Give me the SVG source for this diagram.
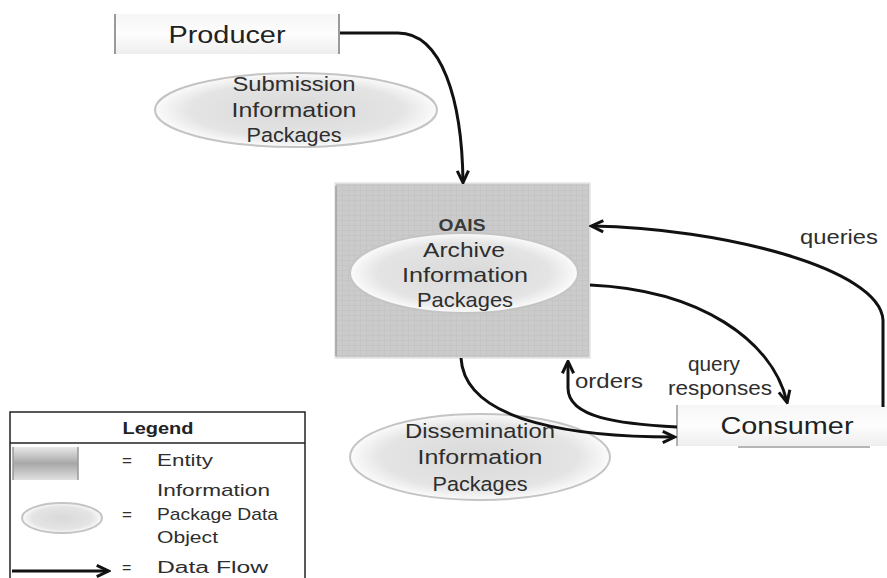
<svg xmlns="http://www.w3.org/2000/svg" width="887" height="578" viewBox="0 0 887 578">
<defs>
<style>
text{font-family:"Liberation Sans","Open Sans",Arial,sans-serif;fill:#2e2e2e;text-anchor:middle}
.lbl{font-size:20.5px}
.big{font-size:23px;fill:#222}
.leg{font-size:17px;text-anchor:start}
.flow{fill:none;stroke:#111;stroke-width:3;marker-end:url(#ah)}
.ell{fill:url(#eg);stroke:#c4c4c4;stroke-width:2}
.ebox{fill:url(#bg);stroke:none}
</style>
<marker id="ah" viewBox="0 0 12 12" refX="10" refY="6" markerWidth="15" markerHeight="15" markerUnits="userSpaceOnUse" orient="auto">
<path d="M1,1.5 L10.5,6 L1,10.5" fill="none" stroke="#111" stroke-width="2.4" stroke-linejoin="miter"/>
</marker>
<radialGradient id="eg" cx="50%" cy="50%" r="50%">
<stop offset="0" stop-color="#d9d9d9"/>
<stop offset="0.75" stop-color="#e4e4e4"/>
<stop offset="1" stop-color="#fbfbfb"/>
</radialGradient>
<linearGradient id="bg" x1="0" y1="0" x2="0" y2="1">
<stop offset="0" stop-color="#f6f6f6"/>
<stop offset="0.5" stop-color="#fdfdfd"/>
<stop offset="1" stop-color="#eeeeee"/>
</linearGradient>
<pattern id="grid" width="6" height="5" patternUnits="userSpaceOnUse">
<rect width="6" height="5" fill="#cbcbcb"/>
<path d="M0,0.5 H6 M0.5,0 V5" stroke="#c5c5c5" stroke-width="1"/>
</pattern>
<linearGradient id="lg" x1="0" y1="0" x2="0" y2="1">
<stop offset="0" stop-color="#e8e8e8"/>
<stop offset="0.5" stop-color="#a8a8a8"/>
<stop offset="1" stop-color="#e0e0e0"/>
</linearGradient>
</defs>

<g id="producer">
<rect class="ebox" x="115" y="14" width="224" height="40"/>
<line x1="115" y1="14" x2="115" y2="54" stroke="#9a9a9a" stroke-width="2"/>
<line x1="339" y1="14" x2="339" y2="54" stroke="#9a9a9a" stroke-width="2"/>
<text class="big" x="227" y="43" textLength="117" lengthAdjust="spacingAndGlyphs">Producer</text>
</g>

<g id="sip">
<ellipse class="ell" cx="296" cy="110" rx="141" ry="37"/>
<text class="lbl" x="294" y="91" textLength="123" lengthAdjust="spacingAndGlyphs">Submission</text>
<text class="lbl" x="294" y="117" textLength="125" lengthAdjust="spacingAndGlyphs">Information</text>
<text class="lbl" x="294" y="142" textLength="95" lengthAdjust="spacingAndGlyphs">Packages</text>
</g>

<g id="oais">
<rect x="335" y="183" width="255" height="175" fill="url(#grid)" stroke="#e6e6e6" stroke-width="1.5"/>
<line x1="336" y1="186" x2="336" y2="356" stroke="#a0a0a0" stroke-width="1.5"/>
<text x="462" y="231" style="font-size:17px;font-weight:bold;fill:#3a3a3a" textLength="47" lengthAdjust="spacingAndGlyphs">OAIS</text>
<ellipse class="ell" cx="464" cy="273" rx="114" ry="40"/>
<text class="lbl" x="464" y="257" style="font-size:21px" textLength="82" lengthAdjust="spacingAndGlyphs">Archive</text>
<text class="lbl" x="465" y="282" style="font-size:21px" textLength="126" lengthAdjust="spacingAndGlyphs">Information</text>
<text class="lbl" x="465" y="307" style="font-size:21px" textLength="96" lengthAdjust="spacingAndGlyphs">Packages</text>
</g>

<g id="consumer">
<rect class="ebox" x="677" y="405" width="210" height="41"/>
<line x1="677" y1="405" x2="677" y2="446" stroke="#9a9a9a" stroke-width="1.5"/>
<line x1="738" y1="447" x2="870" y2="447" stroke="#b5b5b5" stroke-width="2"/>
<text class="big" x="787" y="434" textLength="133" lengthAdjust="spacingAndGlyphs">Consumer</text>
</g>

<g id="dip">
<ellipse class="ell" cx="480" cy="457" rx="130" ry="43"/>
<text class="lbl" x="480" y="438" textLength="150" lengthAdjust="spacingAndGlyphs">Dissemination</text>
<text class="lbl" x="480" y="464" textLength="125" lengthAdjust="spacingAndGlyphs">Information</text>
<text class="lbl" x="480" y="491" textLength="95" lengthAdjust="spacingAndGlyphs">Packages</text>
</g>

<g id="connectors">
<path class="flow" d="M340,33 L398,33 C442,33 462,100 463,182"/>
<path class="flow" d="M883,407 L883,320 C880,268 720,228 592,226"/>
<path class="flow" d="M590,285 C700,290 772,340 787,402"/>
<path class="flow" d="M677,427 C620,424 568,418 568,388 L568,362"/>
<path class="flow" d="M461,358 C465,425 585,437 674,437"/>
</g>

<g id="labels">
<text class="lbl" x="839" y="244" textLength="78" lengthAdjust="spacingAndGlyphs">queries</text>
<text class="lbl" x="714" y="371" textLength="52" lengthAdjust="spacingAndGlyphs">query</text>
<text class="lbl" x="720" y="395" textLength="104" lengthAdjust="spacingAndGlyphs">responses</text>
<text class="lbl" x="609" y="388" textLength="68" lengthAdjust="spacingAndGlyphs">orders</text>
</g>

<g id="legend">
<rect x="10" y="412" width="295" height="180" fill="#fff" stroke="#222" stroke-width="1.5"/>
<line x1="10" y1="443" x2="305" y2="443" stroke="#222" stroke-width="1.5"/>
<text x="158" y="434" style="font-size:17px;font-weight:bold;fill:#222" textLength="71" lengthAdjust="spacingAndGlyphs">Legend</text>
<rect x="13" y="447" width="65" height="33" fill="url(#lg)"/>
<line x1="13" y1="447" x2="13" y2="480" stroke="#999" stroke-width="1.5"/>
<line x1="78" y1="447" x2="78" y2="480" stroke="#999" stroke-width="1.5"/>
<ellipse class="ell" cx="62" cy="518" rx="40" ry="15"/>
<path d="M12,571 L108,571" fill="none" stroke="#111" stroke-width="3" marker-end="url(#ah)"/>
<text class="leg" x="122" y="466">=</text>
<text class="leg" x="157" y="466" textLength="56" lengthAdjust="spacingAndGlyphs">Entity</text>
<text class="leg" x="157" y="496" textLength="113" lengthAdjust="spacingAndGlyphs">Information</text>
<text class="leg" x="122" y="520">=</text>
<text class="leg" x="157" y="520" textLength="121" lengthAdjust="spacingAndGlyphs">Package Data</text>
<text class="leg" x="157" y="543" textLength="61" lengthAdjust="spacingAndGlyphs">Object</text>
<text class="leg" x="122" y="573" style="font-size:16px">=</text>
<text class="leg" x="157" y="573" style="font-size:16px" textLength="111" lengthAdjust="spacingAndGlyphs">Data Flow</text>
</g>
</svg>
